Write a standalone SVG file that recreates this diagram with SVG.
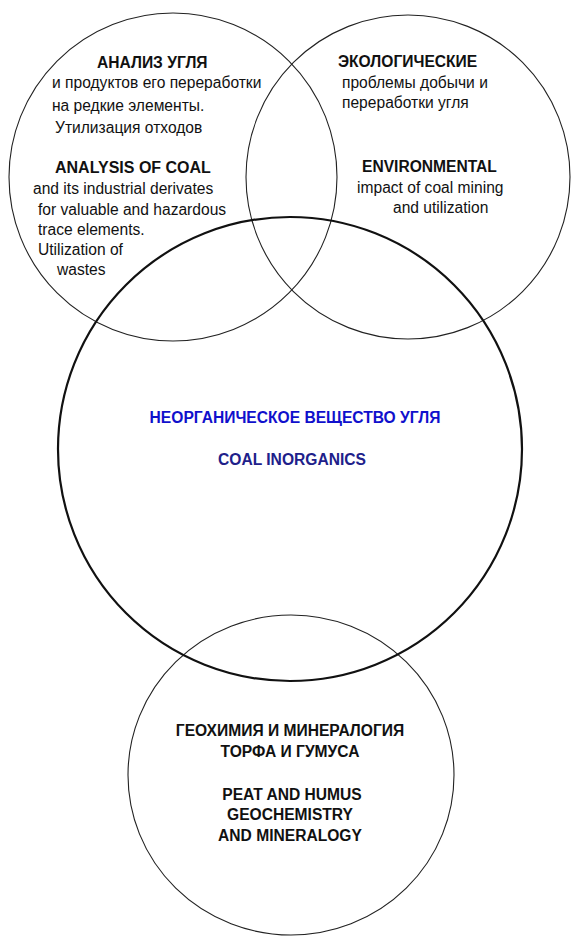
<svg xmlns="http://www.w3.org/2000/svg" width="571" height="939" viewBox="0 0 571 939">
<style>
.thin{fill:none;stroke:#222;stroke-width:1.1}
.thick{fill:none;stroke:#111;stroke-width:2.2}
text{font-family:"Liberation Sans",Arial,sans-serif;fill:#111}
.h{font-weight:bold;font-size:15.6px}
.r{font-size:15.6px}
.blue{fill:#1010cc}
.navy{fill:#20208a}
</style>
<rect width="571" height="939" fill="#fff"/>
<g id="connectors"></g>
<g id="analysis">
<circle class="thin" cx="173" cy="177" r="164"/>
<text class="h" x="97" y="68">АНАЛИЗ УГЛЯ</text>
<text class="r" x="52" y="88">и продуктов его переработки</text>
<text class="r" x="52" y="111">на редкие элементы.</text>
<text class="r" x="55" y="133">Утилизация отходов</text>
<text class="h" x="55" y="173" style="font-size:16px">ANALYSIS OF COAL</text>
<text class="r" x="33" y="194">and its industrial derivates</text>
<text class="r" x="38" y="215">for valuable and hazardous</text>
<text class="r" x="38" y="235">trace elements.</text>
<text class="r" x="38" y="255">Utilization of</text>
<text class="r" x="57" y="275">wastes</text>
</g>
<g id="environmental">
<circle class="thin" cx="408" cy="177" r="162"/>
<text class="h" x="338" y="67">ЭКОЛОГИЧЕСКИЕ</text>
<text class="r" x="342" y="88">проблемы добычи и</text>
<text class="r" x="342" y="108">переработки угля</text>
<text class="h" x="362" y="172">ENVIRONMENTAL</text>
<text class="r" x="357" y="193">impact of coal mining</text>
<text class="r" x="393" y="213">and utilization</text>
</g>
<g id="peat">
<ellipse class="thin" cx="291" cy="775" rx="163" ry="160"/>
<text class="h" x="290" y="736" text-anchor="middle">ГЕОХИМИЯ И МИНЕРАЛОГИЯ</text>
<text class="h" x="290" y="757" text-anchor="middle">ТОРФА И ГУМУСА</text>
<text class="h" x="292" y="800" text-anchor="middle">PEAT AND HUMUS</text>
<text class="h" x="290" y="820" text-anchor="middle">GEOCHEMISTRY</text>
<text class="h" x="290" y="841" text-anchor="middle">AND MINERALOGY</text>
</g>
<g id="inorganics">
<circle class="thick" cx="290" cy="449" r="232"/>
<text class="h blue" x="295" y="423" text-anchor="middle">НЕОРГАНИЧЕСКОЕ ВЕЩЕСТВО УГЛЯ</text>
<text class="h navy" x="292" y="465" text-anchor="middle">COAL INORGANICS</text>
</g>
</svg>
